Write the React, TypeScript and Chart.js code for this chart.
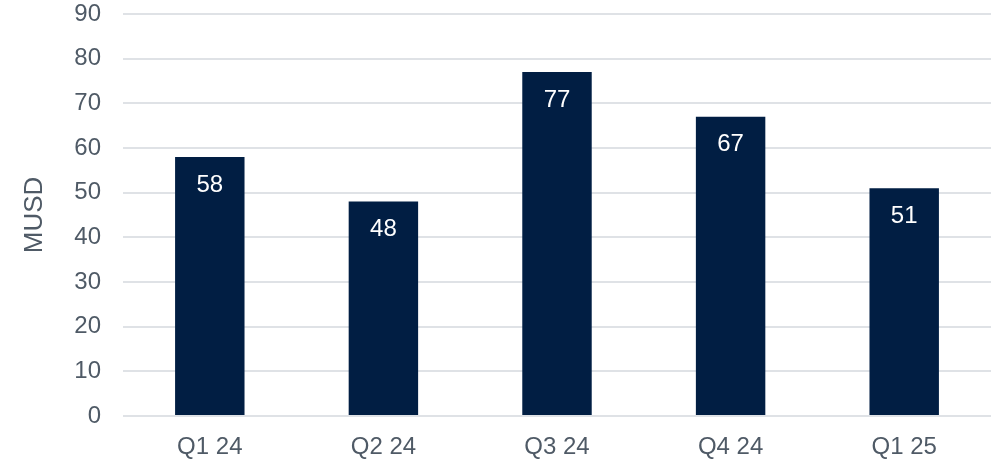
import React, { useEffect, useRef } from "react";
import { Chart, registerables } from "chart.js";

Chart.register(...registerables);

const categories = ["Q1 24", "Q2 24", "Q3 24", "Q4 24", "Q1 25"];
const values = [58, 48, 77, 67, 51];
const yTitle = "MUSD";

const textColor = "#4f5a66";
const barColor = "#011e43";
const gridColor = "#dfe2e6";
const fontFamily = "'Liberation Sans', Arial, sans-serif";

const labelPlugin = {
  id: "barLabels",
  afterDatasetsDraw(chart: any) {
    const ctx = chart.ctx;
    const meta = chart.getDatasetMeta(0);
    ctx.save();
    ctx.fillStyle = "#ffffff";
    ctx.font = `24px ${fontFamily}`;
    ctx.textAlign = "center";
    ctx.textBaseline = "middle";
    meta.data.forEach((bar: any, i: number) => {
      ctx.fillText(String(values[i]), bar.x, bar.y + 28);
    });
    ctx.restore();
  },
};

export default function App() {
  const ref = useRef<HTMLCanvasElement>(null);
  useEffect(() => {
    const chart = new Chart(ref.current!, {
      type: "bar",
      data: {
        labels: categories,
        datasets: [
          {
            data: values,
            backgroundColor: barColor,
            categoryPercentage: 1,
            barPercentage: 0.4,
          },
        ],
      },
      options: {
        animation: false,
        responsive: false,
        maintainAspectRatio: false,
        layout: { padding: { top: 14, right: 0, left: 0, bottom: 0 } },
        plugins: { legend: { display: false }, tooltip: { enabled: false } },
        scales: {
          x: {
            grid: { display: false, drawTicks: false },
            border: { display: false },
            ticks: {
              color: textColor,
              font: { size: 24, family: fontFamily },
              padding: 17,
              maxRotation: 0,
            },
            afterFit: (axis: any) => {
              axis.height = 47;
              axis.paddingLeft = 0;
              axis.paddingRight = 0;
            },
          },
          y: {
            min: 0,
            max: 90,
            grid: { color: gridColor, lineWidth: 2, drawTicks: false },
            border: { display: false },
            ticks: {
              stepSize: 10,
              color: textColor,
              font: { size: 24, family: fontFamily },
              padding: 22,
            },
            title: {
              display: true,
              text: yTitle,
              color: textColor,
              font: { size: 26, family: fontFamily },
              padding: { top: 19, bottom: 0 },
            },
            afterFit: (axis: any) => {
              axis.width = 123;
              axis.paddingTop = 0;
              axis.paddingBottom = 0;
            },
          },
        },
      },
      plugins: [labelPlugin],
    });
    return () => chart.destroy();
  }, []);
  return (
    <div style={{ position: "absolute", left: 0, top: 0, width: 991, height: 463, background: "#fff" }}>
      <canvas ref={ref} width={991} height={463} style={{ width: 991, height: 463 }} />
    </div>
  );
}
